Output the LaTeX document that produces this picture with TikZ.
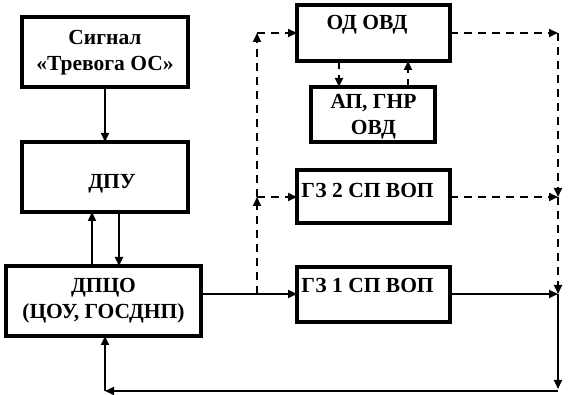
\documentclass[tikz,border=0pt]{standalone}
\usepackage{fontspec}
\setmainfont{Liberation Serif}
\usetikzlibrary{arrows.meta}
\begin{document}
\begin{tikzpicture}[x=1pt,y=-1pt,
  box/.style={draw,line width=3.6pt,inner sep=0pt,outer sep=0pt},
  txt/.style={font=\bfseries\fontsize{21.5}{26}\selectfont,inner sep=0pt,align=center},
  con/.style={line width=2pt,-{Triangle[length=9pt,width=8pt]}},
  dcon/.style={con,dash pattern=on 8pt off 6pt},
  plain/.style={line width=2pt}]
\useasboundingbox (0,0) rectangle (571,395);
% boxes
\node[box,minimum width=166pt,minimum height=70pt] (sig) at (105,52) {};
\node[txt] (sigt) at (105,53) {Сигнал\\«Тревога ОС»};
\node[box,minimum width=166pt,minimum height=70pt] (dpu) at (105,177) {};
\node[txt] (dput) at (112,184) {ДПУ};
\node[box,minimum width=195pt,minimum height=70pt] (dpco) at (103.5,301) {};
\node[txt] (dpcot) at (103.5,301) {ДПЦО\\(ЦОУ, ГОСДНП)};
\node[box,minimum width=153pt,minimum height=56pt] (od) at (373.5,33) {};
\node[txt] (odt) at (367,25) {ОД ОВД};
\node[box,minimum width=124pt,minimum height=55pt] (ap) at (373,114.5) {};
\node[txt] (apt) at (373.5,117) {АП, ГНР\\ОВД};
\node[box,minimum width=153pt,minimum height=53pt] (gz2) at (373.5,196.5) {};
\node[txt] (gz2t) at (367.5,190.5) {ГЗ 2 СП ВОП};
\node[box,minimum width=153pt,minimum height=55pt] (gz1) at (373.5,294.5) {};
\node[txt] (gz1t) at (367.5,285.5) {ГЗ 1 СП ВОП};
% coordinates
\coordinate (b1) at (257,294);
\coordinate (b2) at (257,197);
\coordinate (b3) at (257,33);
\coordinate (r1) at (558,33);
\coordinate (r2) at (558,197);
\coordinate (r3) at (558,294);
\coordinate (r4) at (558,389);
\coordinate (r5) at (558,391);
\coordinate (l1) at (105,391);
% connectors
\draw[con] (sig.south) -- (dpu.north);
\draw[con] (dpco.north -| 92,0) -- (dpu.south -| 92,0);
\draw[con] (dpu.south -| 119,0) -- (dpco.north -| 119,0);
\draw[con] (dpco.east |- b1) -- (gz1.west |- b1);
\draw[dcon] (b1) -- (b2);
\draw[dcon] (b2) -- (b3);
\draw[dcon] (b2) -- (gz2.west |- b2);
\draw[dcon] (b3) -- (od.west |- b3);
\draw[dcon] (od.south -| 339,0) -- (ap.north -| 339,0);
\draw[dcon] (ap.north -| 408,0) -- (od.south -| 408,0);
\draw[dcon] (od.east |- r1) -- (r1);
\draw[dcon] (r1) -- (r2);
\draw[dcon] (gz2.east |- r2) -- (r2);
\draw[dcon] (r2) -- (r3);
\draw[con] (gz1.east |- r3) -- (r3);
\draw[con] (r3) -- (r4);
\draw[con] (r5) -- (l1);
\draw[con] (l1) -- (dpco.south -| l1);
\end{tikzpicture}
\end{document}
